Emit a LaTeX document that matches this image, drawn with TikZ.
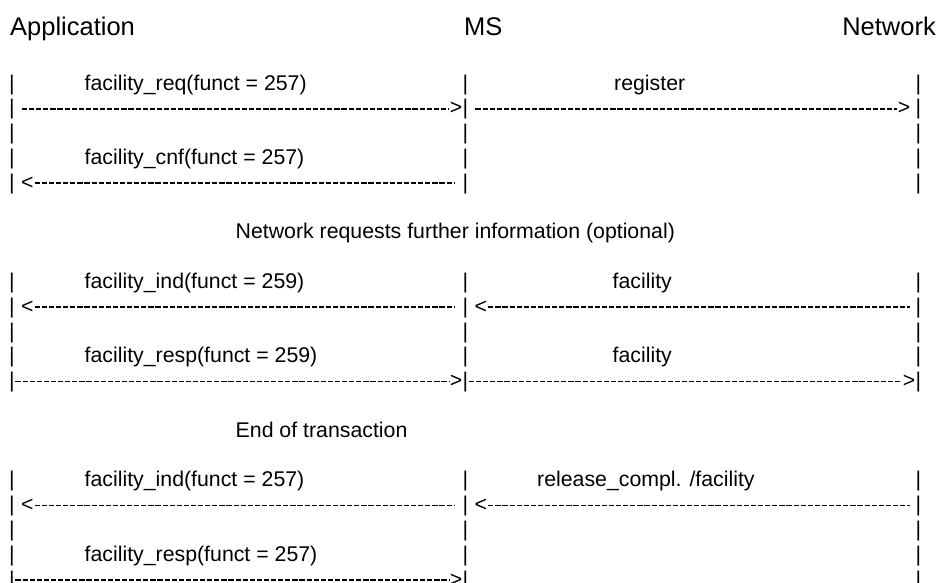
\documentclass[tikz,border=0pt]{standalone}
\usepackage{fontspec}
\setmainfont{Liberation Sans}
\usetikzlibrary{positioning}
\tikzset{
  bar/.style={inner sep=0pt,anchor=base},
  lbl/.style={inner sep=0pt,anchor=base west},
  chev/.style={inner sep=0pt},
  msg/.style={line width=1.7pt,dash pattern=on 5.2pt off 1.9pt},
  hdr/.style={inner sep=0pt,font=\fontsize{25.5}{30}\selectfont},
}
\begin{document}
\begin{tikzpicture}[x=1pt,y=-1pt,font=\fontsize{21.3}{25}\selectfont]
    \useasboundingbox (0,0) rectangle (942,582);

    % header
    \node [hdr,anchor=base west] (app) at (10,35) {Application};
    \node [hdr,anchor=base west] (ms) at (464,35) {MS};
    \node [hdr,anchor=base east] (net) at (936,35) {Network};

    % lifelines
    \foreach \k in {0,1,2,3,4,8,9,10,11,12,16,17,18,19,20} {
      \node [bar] (l\k) at (12,{90+24.8*\k}) {\textbar};
      \node [bar] (m\k) at (465.5,{90+24.8*\k}) {\textbar};
      \node [bar] (r\k) at (918.5,{90+24.8*\k}) {\textbar};
    }

    % register
    \node [lbl] (req) at (84.5,90) {facility\_req(funct = 257)};
    \node [lbl] (reg) at (614,90) {register};
    \node [chev,base left=0pt of m1] (t1) {\textgreater};
    \node [chev,base left=5pt of r1] (t1r) {\textgreater};
    \draw [msg,shorten <=7pt,shorten >=1pt] ([yshift=6pt]l1.base east) -- ([yshift=6pt]t1.base west);
    \draw [msg,shorten <=7pt,shorten >=1pt] ([yshift=6pt]m1.base east) -- ([yshift=6pt]t1r.base west);

    \node [lbl] (cnf) at (84.5,164.4) {facility\_cnf(funct = 257)};
    \node [chev,base right=5.9pt of l4] (t4) {\textless};
    \draw [msg,shorten <=1pt,shorten >=8pt] ([yshift=6pt]t4.base east) -- ([yshift=6pt]m4.base west);

    \node [lbl] (note1) at (235.5,238.8) {Network requests further information (optional)};

    % further information
    \node [lbl] (ind1) at (84.5,288.4) {facility\_ind(funct = 259)};
    \node [lbl] (fac1) at (612.5,288.4) {facility};
    \node [chev,base right=5.9pt of l9] (t9) {\textless};
    \node [chev,base right=5.9pt of m9] (t9r) {\textless};
    \draw [msg,shorten <=1pt,shorten >=8pt] ([yshift=6pt]t9.base east) -- ([yshift=6pt]m9.base west);
    \draw [msg,shorten <=1pt,shorten >=6pt] ([yshift=6pt]t9r.base east) -- ([yshift=6pt]r9.base west);

    \node [lbl] (resp1) at (84.5,362.8) {facility\_resp(funct = 259)};
    \node [lbl] (fac2) at (612.5,362.8) {facility};
    \node [chev,base left=0pt of m12] (t12) {\textgreater};
    \node [chev,base left=0pt of r12] (t12r) {\textgreater};
    \draw [msg,shorten <=0.5pt,shorten >=1pt] ([yshift=6pt]l12.base east) -- ([yshift=6pt]t12.base west);
    \draw [msg,shorten <=0.5pt,shorten >=1pt] ([yshift=6pt]m12.base east) -- ([yshift=6pt]t12r.base west);

    \node [lbl] (note2) at (235.5,437.2) {End of transaction};

    % release
    \node [lbl] (ind2) at (84.5,486.8) {facility\_ind(funct = 257)};
    \node [lbl] (rel) at (537,486.8) {release\_compl. /facility};
    \node [chev,base right=5.9pt of l17] (t17) {\textless};
    \node [chev,base right=5.9pt of m17] (t17r) {\textless};
    \draw [msg,shorten <=1pt,shorten >=8pt] ([yshift=6pt]t17.base east) -- ([yshift=6pt]m17.base west);
    \draw [msg,shorten <=1pt,shorten >=6pt] ([yshift=6pt]t17r.base east) -- ([yshift=6pt]r17.base west);

    \node [lbl] (resp2) at (84.5,561.2) {facility\_resp(funct = 257)};
    \node [chev,base left=0pt of m20] (t20) {\textgreater};
    \draw [msg,shorten <=0.5pt,shorten >=1pt] ([yshift=6pt]l20.base east) -- ([yshift=6pt]t20.base west);
\end{tikzpicture}
\end{document}
